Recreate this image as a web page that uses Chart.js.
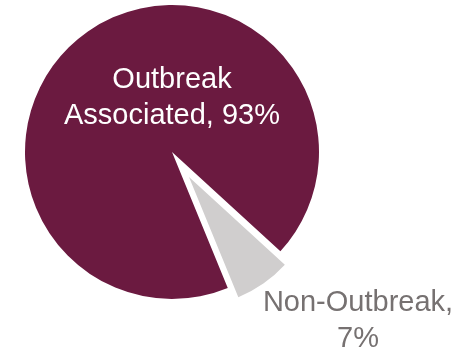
<!DOCTYPE html>
<html>
<head>
<meta charset="utf-8">
<script src="https://cdn.jsdelivr.net/npm/chart.js@4"></script>
<style>
    html, body { margin: 0; padding: 0; background: #ffffff; }
    .layer { position: absolute; left: 0; top: 0; width: 462px; height: 354px; }
</style>
</head>
<body>
<div class="layer"><canvas id="main-pie"></canvas></div>
<div class="layer"><canvas id="exploded-pie"></canvas></div>
<script>
// Данные диаграммы
const categories = ['Outbreak Associated', 'Non-Outbreak'];
const shares = [93, 7];
const sliceColors = ['#6b1a40', '#d0cece'];
const labelColors = ['#ffffff', '#767171'];

// Подписи секторов
const labelLines = [
    ['Outbreak', 'Associated, ' + shares[0] + '%'],
    ['Non-Outbreak,', shares[1] + '%']
];
const labelAnchors = [[172, 98], [358, 321]];

const sliceLabels = {
    id: 'sliceLabels',
    afterDatasetsDraw(chart) {
        const ctx = chart.ctx;
        ctx.save();
        ctx.font = '29px "Liberation Sans", Arial, sans-serif';
        ctx.textAlign = 'center';
        ctx.textBaseline = 'middle';
        labelLines.forEach((lines, i) => {
            ctx.fillStyle = labelColors[i];
            const [x, y] = labelAnchors[i];
            lines.forEach((line, j) => {
                ctx.fillText(line, x, y + (j - (lines.length - 1) / 2) * 36);
            });
        });
        ctx.restore();
    }
};

// Общая функция построения пирога; shown — какие сектора видимы на этом слое
function buildPie(elementId, shown, radius, padding, extraPlugins) {
    return new Chart(document.getElementById(elementId), {
        type: 'pie',
        data: {
            labels: categories,
            datasets: [{
                data: shares,
                backgroundColor: sliceColors.map((c, i) => shown[i] ? c : 'rgba(0,0,0,0)'),
                borderWidth: 0
            }]
        },
        options: {
            responsive: true,
            maintainAspectRatio: false,
            animation: false,
            rotation: 157.7,
            radius: radius,
            layout: { padding: padding },
            plugins: {
                legend: { display: false },
                tooltip: { enabled: false }
            }
        },
        plugins: extraPlugins
    });
}

// Основной пирог и выдвинутый сектор «Non-Outbreak»
buildPie('main-pie', [true, false], 147, { left: 0, top: 0, right: 118, bottom: 50 }, []);
buildPie('exploded-pie', [false, true], 130, { left: 0, top: 0, right: 84, bottom: 0 }, [sliceLabels]);
</script>
</body>
</html>
